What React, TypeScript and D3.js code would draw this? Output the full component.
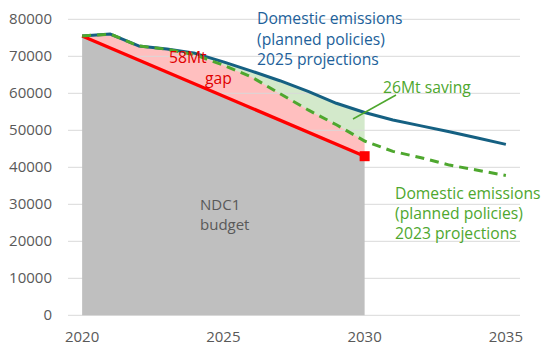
import React from "react";
import * as d3 from "d3";

// categories
const years = [2020, 2021, 2022, 2023, 2024, 2025, 2026, 2027, 2028, 2029, 2030, 2031, 2032, 2033, 2034, 2035];
// domestic emissions, planned policies, 2025 projections
const proj2025 = [75500, 76000, 72800, 72000, 70800, 68500, 66000, 63400, 60500, 57300, 54800, 52800, 51200, 49600, 47900, 46200];
// domestic emissions, planned policies, 2023 projections
const proj2023 = [75500, 76000, 72800, 71900, 70400, 67600, 64400, 59900, 55500, 51500, 47100, 44300, 42600, 40600, 39200, 37800];
// NDC1 budget trajectory
const ndcYears = [2020, 2030];
const ndcValues = [75500, 43000];

const yTicks = [0, 10000, 20000, 30000, 40000, 50000, 60000, 70000, 80000];
const xTicks = [2020, 2025, 2030, 2035];

const W = 550;
const H = 354;
const FONT = "'Open Sans', sans-serif";
const BLUE = "#156082";
const GREEN = "#4EA72E";
const RED = "#FF0000";

export default function App() {
  const x = d3.scalePoint<number>().domain(years).range([68, 520]).padding(0.5);
  const y = d3.scaleLinear().domain([0, 80000]).range([315.3, 19.3]);

  type P = [number, number];
  const line = d3
    .line<P>()
    .x((d) => x(d[0])!)
    .y((d) => y(d[1]));

  const blue: P[] = years.map((yr, i) => [yr, proj2025[i]]);
  const green: P[] = years.map((yr, i) => [yr, proj2023[i]]);
  const ndc: P[] = ndcYears.map((yr, i) => [yr, ndcValues[i]]);
  const last = ndcYears[ndcYears.length - 1];
  const upTo = (pts: P[]) => pts.filter((p) => p[0] <= last);

  // NDC1 budget: below the red line
  const grayPts: P[] = [[ndcYears[0], 0], ...ndc, [last, 0]];
  // gap: between 2023 projections and the NDC line
  const pinkPts: P[] = [...upTo(green), ...ndc.slice().reverse()];
  // saving: between 2025 and 2023 projections
  const savePts: P[] = [...upTo(blue), ...upTo(green).reverse()];

  const redEnd = ndc[ndc.length - 1];

  return (
    <svg width={W} height={H} style={{ position: "absolute", left: 0, top: 0, background: "#fff" }} fontFamily={FONT}>
      <path d={line(pinkPts)! + "Z"} fill={RED} fillOpacity={0.25} />
      <path d={line(savePts)! + "Z"} fill={GREEN} fillOpacity={0.25} />

      {yTicks.map((t) => (
        <g key={t}>
          <line x1={68} x2={520} y1={y(t)} y2={y(t)} stroke="#D9D9D9" strokeWidth={1} />
          <text x={52} y={y(t) + 5} textAnchor="end" fontSize={15} fill="#595959">
            {t}
          </text>
        </g>
      ))}

      <path d={line(grayPts)! + "Z"} fill="#BFBFBF" />

      {xTicks.map((t) => (
        <text key={t} x={x(t)} y={342} textAnchor="middle" fontSize={15} fill="#595959">
          {t}
        </text>
      ))}

      <path d={line(blue)!} fill="none" stroke={BLUE} strokeWidth={3} strokeLinejoin="round" />
      <path d={line(ndc)!} fill="none" stroke={RED} strokeWidth={3.3} />
      <path d={line(green)!} fill="none" stroke={GREEN} strokeWidth={3} strokeDasharray="9 6" />
      <rect x={x(redEnd[0])! - 5} y={y(redEnd[1]) - 5} width={10} height={10} fill={RED} />

      <line x1={353} y1={119} x2={396} y2={95} stroke={GREEN} strokeWidth={1.5} />

      <g fontSize={15.7} fill="#215F9A">
        <text x={257} y={24}>Domestic emissions</text>
        <text x={257} y={44.5}>(planned policies)</text>
        <text x={257} y={65}>2025 projections</text>
      </g>
      <g fontSize={15.7} fill={GREEN}>
        <text x={395} y={198.5}>Domestic emissions</text>
        <text x={395} y={219}>(planned policies)</text>
        <text x={395} y={239.3}>2023 projections</text>
        <text x={383} y={93.3}>26Mt saving</text>
      </g>
      <g fontSize={15.7} fill="#E00000">
        <text x={169} y={63}>58Mt</text>
        <text x={205} y={83.5}>gap</text>
      </g>
      <g fontSize={15} fill="#595959">
        <text x={200} y={209.5}>NDC1</text>
        <text x={200} y={230}>budget</text>
      </g>
    </svg>
  );
}
